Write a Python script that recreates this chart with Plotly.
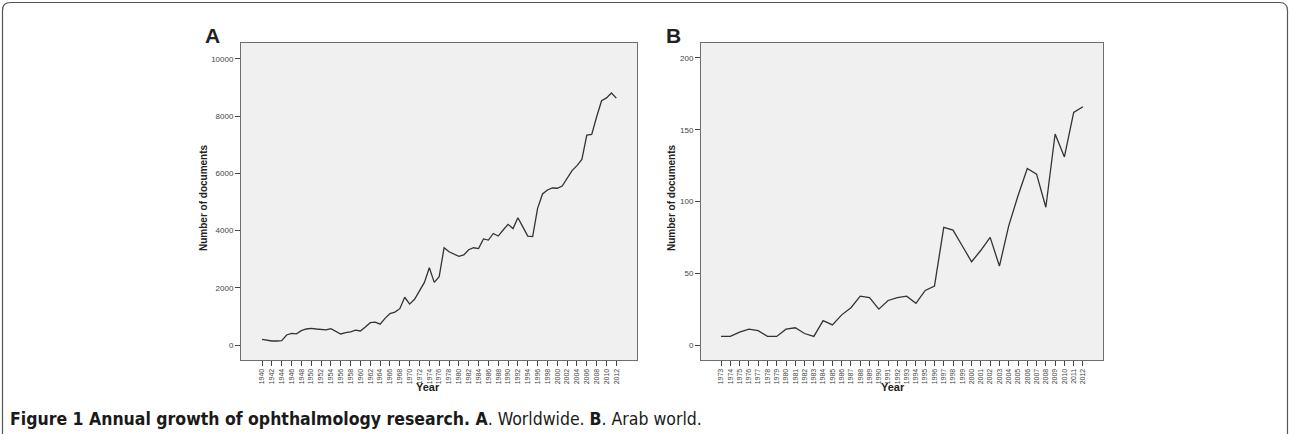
import plotly.graph_objects as go

# ---------------- data ----------------
years_a = list(range(1940, 2013))
docs_a = [200, 170, 140, 140, 150, 350, 410, 390, 500, 560,
          580, 560, 540, 530, 570, 470, 385, 430, 460, 520,
          490, 630, 780, 800, 730, 930, 1100, 1150, 1270, 1670,
          1430, 1600, 1920, 2190, 2700, 2190, 2390, 3400, 3260, 3170,
          3100, 3150, 3330, 3400, 3370, 3710, 3670, 3900, 3810, 4020,
          4220, 4070, 4450, 4130, 3810, 3790, 4780, 5280, 5420, 5490,
          5480, 5560, 5840, 6100, 6270, 6490, 7340, 7360, 7980, 8540,
          8640, 8810, 8630]

years_b = list(range(1973, 2013))
docs_b = [6, 6, 9, 11, 10, 6, 6, 11, 12, 8,
          6, 17, 14, 21, 26, 34, 33, 25, 31, 33,
          34, 29, 38, 41, 82, 80, 69, 58, 66, 75,
          55, 83, 104, 123, 119, 96, 147, 131, 162, 166]

ticks_a = list(range(1940, 2013, 2))
ticks_b = list(range(1973, 2013))
yticks_a = [0, 2000, 4000, 6000, 8000, 10000]
yticks_b = [0, 50, 100, 150, 200]

W, H = 1290, 434

def px(x):
    return x / W

def py(y):
    return 1 - y / H

fig = go.Figure()
fig.add_trace(go.Scatter(x=years_a, y=docs_a, mode="lines",
                         line=dict(color="#333333", width=1.3),
                         xaxis="x", yaxis="y", showlegend=False))
fig.add_trace(go.Scatter(x=years_b, y=docs_b, mode="lines",
                         line=dict(color="#333333", width=1.3),
                         xaxis="x2", yaxis="y2", showlegend=False))

tick_font_y = dict(family="Liberation Sans, Arial, sans-serif", size=8, color="#444444")
tick_font_x = dict(family="Liberation Sans, Arial, sans-serif", size=7, color="#444444")
axis_common = dict(showline=True, linecolor="#6e6e6e", linewidth=1, mirror=True,
                   showgrid=False, zeroline=False, ticks="outside", ticklen=5,
                   tickcolor="#444444", tickwidth=1)

fig.update_layout(
    width=W, height=H,
    margin=dict(l=0, r=0, t=0, b=0),
    paper_bgcolor="white",
    plot_bgcolor="#f0f0f0",
    xaxis=dict(domain=[px(241), px(637)], range=[1935.73, 2016.2],
               tickvals=ticks_a, ticktext=[str(t) for t in ticks_a],
               tickangle=-90, anchor="y", tickfont=tick_font_x, **axis_common),
    yaxis=dict(domain=[py(360), py(43)], range=[-524, 10559],
               tickvals=yticks_a, ticktext=[str(t) for t in yticks_a],
               anchor="x", tickfont=tick_font_y, **axis_common),
    xaxis2=dict(domain=[px(701), px(1103)], range=[1970.84, 2014.16],
                tickvals=ticks_b, ticktext=[str(t) for t in ticks_b],
                tickangle=-90, anchor="y2", tickfont=tick_font_x, **axis_common),
    yaxis2=dict(domain=[py(360), py(43)], range=[-10.45, 210.4],
                tickvals=yticks_b, ticktext=[str(t) for t in yticks_b],
                anchor="x2", tickfont=tick_font_y, **axis_common),
)

ann_font = dict(family="Liberation Sans, Arial, sans-serif", color="#222222")
annotations = [
    dict(x=px(212), y=py(35), text="<b>A</b>", font=dict(size=21, **ann_font)),
    dict(x=px(673), y=py(35), text="<b>B</b>", font=dict(size=21, **ann_font)),
    dict(x=px(203), y=py(198), text="<b>Number of documents</b>", textangle=-90,
         font=dict(size=10, **ann_font)),
    dict(x=px(671), y=py(198), text="<b>Number of documents</b>", textangle=-90,
         font=dict(size=10, **ann_font)),
    dict(x=px(428), y=py(387), text="<b>Year</b>", font=dict(size=11, **ann_font)),
    dict(x=px(893), y=py(387), text="<b>Year</b>", font=dict(size=11, **ann_font)),
    dict(x=px(8), y=py(419), xanchor="left",
         text="<b>Figure 1 Annual growth of ophthalmology research. A</b>. Worldwide. <b>B</b>. Arab world.",
         font=dict(family="DejaVu Sans Condensed, Liberation Sans Narrow, sans-serif",
                   size=17.5, color="#1a1a1a")),
]
for a in annotations:
    a.setdefault("xref", "paper")
    a.setdefault("yref", "paper")
    a.setdefault("showarrow", False)
    a.setdefault("xanchor", "center")
    a.setdefault("yanchor", "middle")
fig.update_layout(annotations=annotations)

# outer rounded frame
r = 8
x0, y0, x1, y1 = 2.5, 2.5, 1287.5, 440
path = (f"M {px(x0)} {py(y1)} L {px(x0)} {py(y0 + r)} "
        f"Q {px(x0)} {py(y0)} {px(x0 + r)} {py(y0)} "
        f"L {px(x1 - r)} {py(y0)} "
        f"Q {px(x1)} {py(y0)} {px(x1)} {py(y0 + r)} "
        f"L {px(x1)} {py(y1)}")
fig.add_shape(type="path", path=path, xref="paper", yref="paper",
              line=dict(color="#555555", width=1.2))

fig.write_html("out.html", config={"displayModeBar": False},
               post_script="document.body.style.margin='0';document.body.style.overflow='hidden';")
